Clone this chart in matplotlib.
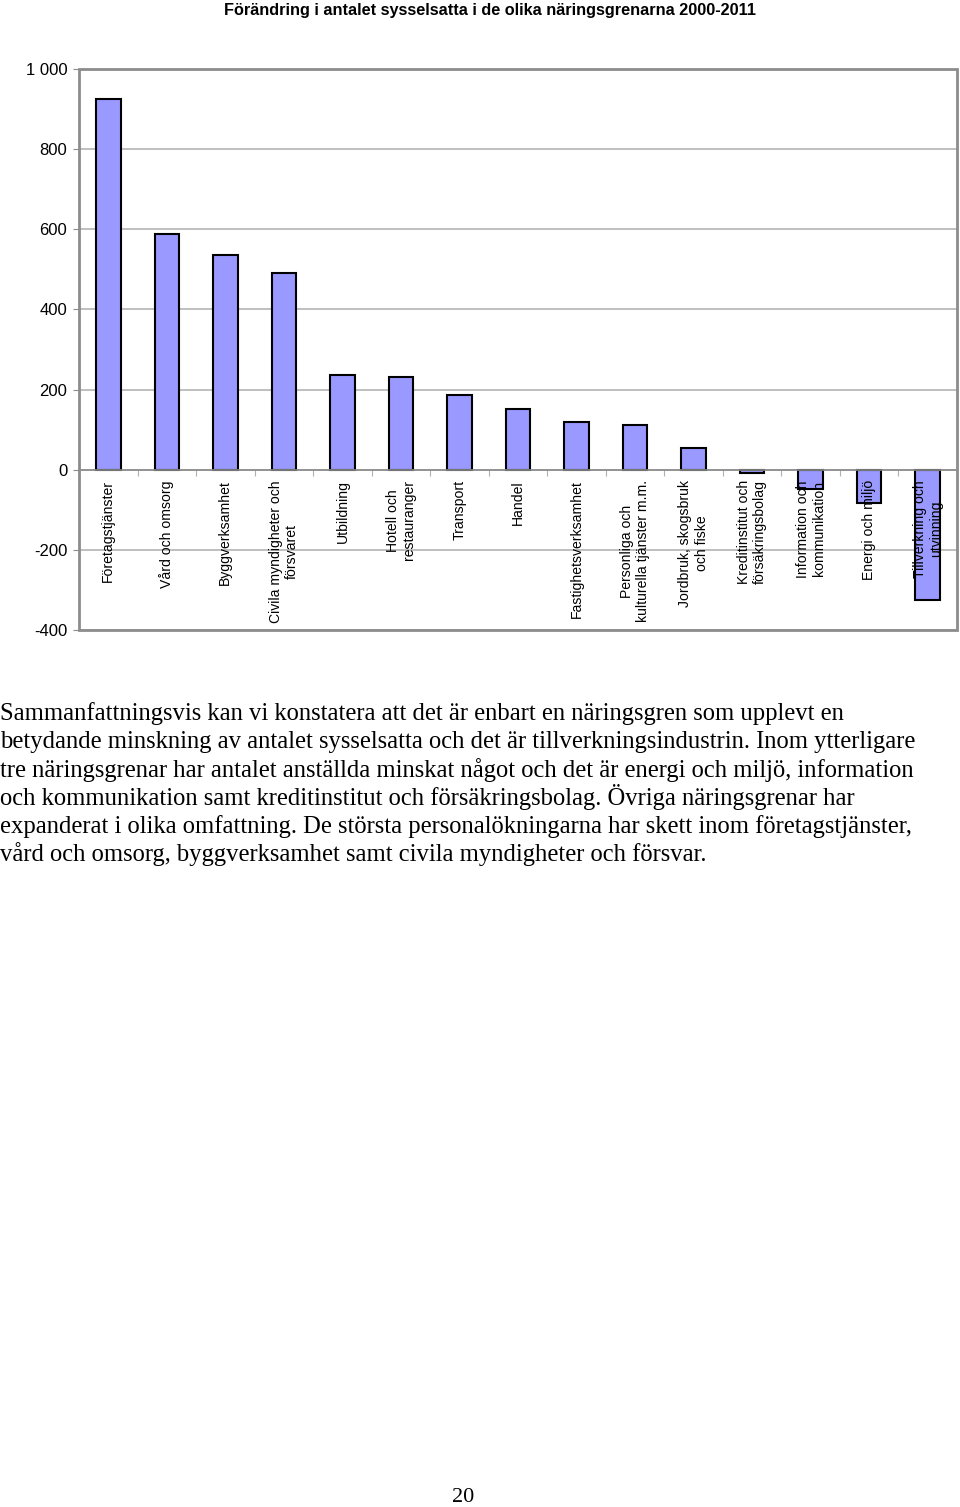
import numpy as np
import matplotlib
matplotlib.use('Agg')
import matplotlib.pyplot as plt
from matplotlib.patches import Rectangle
from matplotlib.ticker import FuncFormatter

plt.rcParams['font.family'] = ['Liberation Sans', 'DejaVu Sans']

branscher = ['Företagstjänster', 'Vård och omsorg', 'Byggverksamhet',
             'Civila myndigheter och\nförsvaret', 'Utbildning',
             'Hotell och\nrestauranger', 'Transport', 'Handel',
             'Fastighetsverksamhet', 'Personliga och\nkulturella tjänster m.m.',
             'Jordbruk, skogsbruk\noch fiske', 'Kreditinstitut och\nförsäkringsbolag',
             'Information och\nkommunikation', 'Energi och miljö',
             'Tillverkning och\nutvinning']
forandring = [924, 587, 537, 492, 236, 232, 187, 151, 119, 112, 55, -8, -48, -83, -325]
yticks = [-400, -200, 0, 200, 400, 600, 800, 1000]

title = 'Förändring i antalet sysselsatta i de olika näringsgrenarna 2000-2011'
body_lines = [
    'Sammanfattningsvis kan vi konstatera att det är enbart en näringsgren som upplevt en',
    'betydande minskning av antalet sysselsatta och det är tillverkningsindustrin. Inom ytterligare',
    'tre näringsgrenar har antalet anställda minskat något och det är energi och miljö, information',
    'och kommunikation samt kreditinstitut och försäkringsbolag. Övriga näringsgrenar har',
    'expanderat i olika omfattning. De största personalökningarna har skett inom företagstjänster,',
    'vård och omsorg, byggverksamhet samt civila myndigheter och försvar.',
]
sidnummer = '20'

grey = '#8c8c8c'

fig = plt.figure(figsize=(9.6, 15.07), dpi=100)
ax = fig.add_axes([79 / 960, 1 - 630 / 1507, (957 - 79) / 960, (630 - 69) / 1507])

x = np.arange(len(branscher))
ax.bar(x, forandring, width=0.42, color='#9999ff', edgecolor='black', linewidth=1.5, zorder=3)

ax.set_xlim(-0.5, len(branscher) - 0.5)
ax.set_ylim(yticks[0], yticks[-1])
ax.set_yticks(yticks)
ax.yaxis.set_major_formatter(FuncFormatter(lambda v, p: f'{int(v):,}'.replace(',', ' ')))
ax.tick_params(axis='y', direction='out', length=4, color=grey, labelsize=12, pad=4.5)
ax.yaxis.grid(True, color='#b4b4b4', linewidth=1.2, zorder=0)

# x-axis through zero with ticks between categories
for s in ['top', 'right', 'left']:
    ax.spines[s].set_visible(False)
ax.spines['bottom'].set_position(('data', 0))
ax.spines['bottom'].set_color(grey)
ax.spines['bottom'].set_linewidth(1.2)
ax.spines['bottom'].set_zorder(4)
ax.set_xticks(np.arange(len(branscher) + 1) - 0.5)
ax.set_xticklabels([])
ax.tick_params(axis='x', direction='out', length=4, color='#b0b0b0')
ax.add_patch(Rectangle((0, 0), 1, 1, transform=ax.transAxes, fill=False,
                       edgecolor=grey, linewidth=2, zorder=5, clip_on=False))

for i, lab in enumerate(branscher):
    ax.annotate(lab, xy=(i, 0), xytext=(0, -7.5), textcoords='offset points',
                rotation=90, ha='center', va='top', multialignment='center',
                fontsize=10.1, zorder=6)

fig.text(0.51, 1 - 10 / 1507, title, ha='center', va='center', fontsize=11.7, fontweight='bold')

# brödtext, en rad i taget för jämnt radavstånd
for k, line in enumerate(body_lines):
    fig.text(0.0, 1 - (720 + 28.3 * k) / 1507, line, ha='left', va='baseline',
             fontsize=17.7, family='Liberation Serif')
fig.text(463 / 960, 1 - 1497 / 1507, sidnummer, ha='center', va='center', fontsize=16,
         family='Liberation Serif')

fig.savefig('out.png', dpi=100)
